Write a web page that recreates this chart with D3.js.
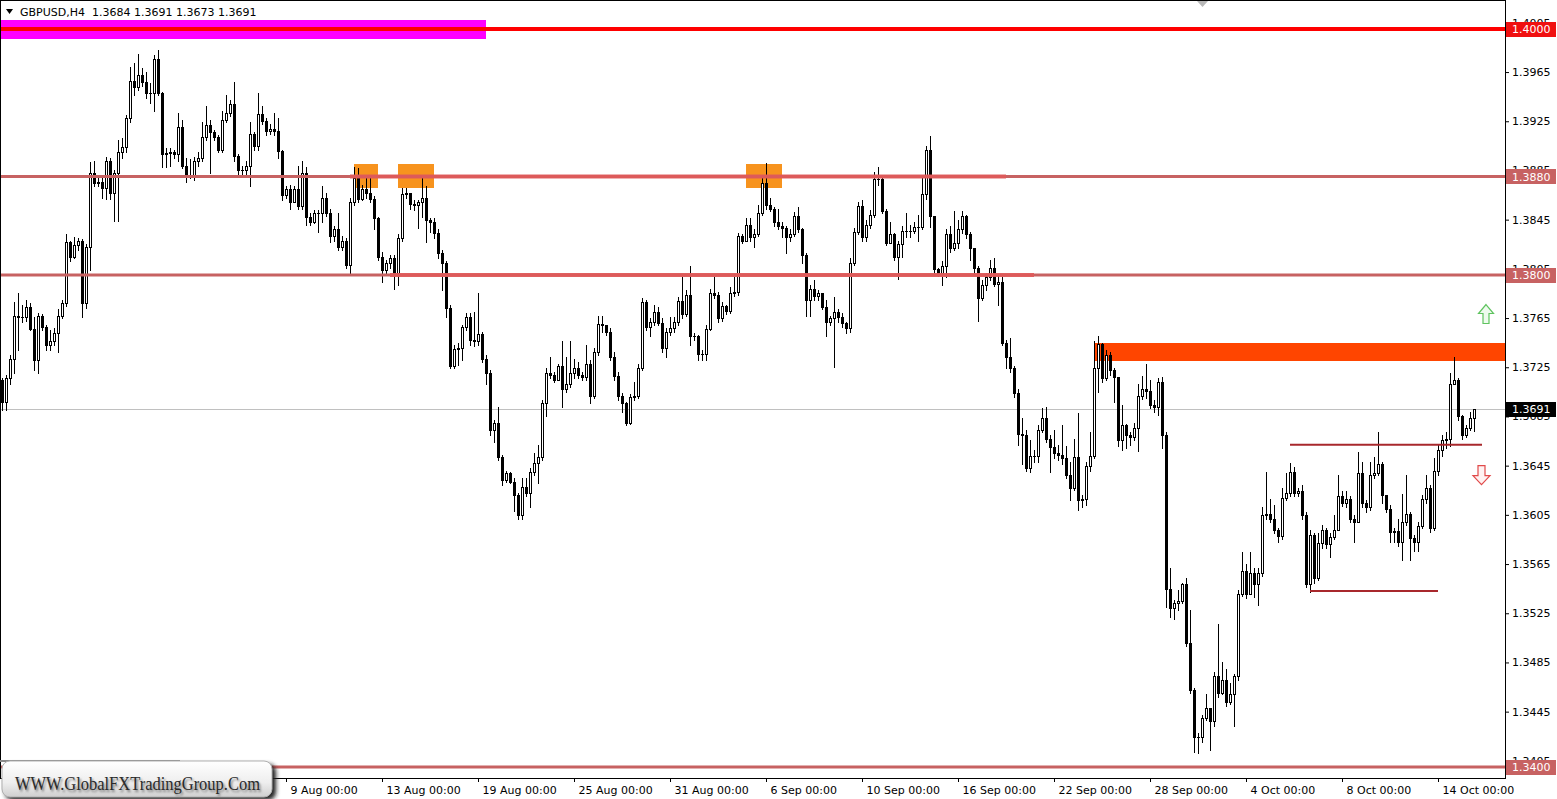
<!DOCTYPE html>
<html><head><meta charset="utf-8">
<script src="https://cdn.jsdelivr.net/npm/d3@7"></script>
<style>
html,body{margin:0;padding:0;background:#fff;overflow:hidden;}
svg{display:block;}
</style></head><body>
<svg id="c" width="1557" height="799"></svg>
<script>
// ---------------- DATA ----------------
const chartTitle = "GBPUSD,H4";
const lastOHLC = ["1.3684","1.3691","1.3673","1.3691"];
const firstOpen = 1.3715;
const closes = [
1.3697,1.3716,1.3732,1.3767,1.3766,1.3766,1.3774,1.3756,1.3731,1.3767,
1.3758,1.3743,1.3746,1.3753,1.3767,1.3777,1.3827,1.3815,1.3824,1.3828,
1.3777,1.3823,1.3883,1.3875,1.3876,1.3871,1.3893,1.3867,1.3883,1.3900,
1.3904,1.3928,1.3958,1.3953,1.3963,1.3957,1.3948,1.3948,1.3976,1.3948,
1.3898,1.3899,1.3900,1.3898,1.3920,1.3889,1.3881,1.3881,1.3893,1.3895,
1.3912,1.3922,1.3916,1.3912,1.3902,1.3926,1.3932,1.3939,1.3897,1.3885,
1.3885,1.3889,1.3915,1.3905,1.3931,1.3925,1.3917,1.3919,1.3917,1.3901,
1.3865,1.3870,1.3859,1.3870,1.3856,1.3883,1.3847,1.3843,1.3850,1.3850,
1.3863,1.3850,1.3832,1.3837,1.3823,1.3828,1.3808,1.3859,1.3879,1.3862,
1.3870,1.3867,1.3862,1.3846,1.3815,1.3804,1.3810,1.3814,1.3802,1.3830,
1.3866,1.3867,1.3858,1.3857,1.3859,1.3863,1.3845,1.3843,1.3834,1.3818,
1.3810,1.3773,1.3726,1.3740,1.3741,1.3758,1.3766,1.3747,1.3746,1.3752,
1.3732,1.3720,1.3674,1.3680,1.3652,1.3633,1.3639,1.3632,1.3621,1.3605,
1.3628,1.3623,1.3640,1.3647,1.3652,1.3696,1.3720,1.3719,1.3715,1.3726,
1.3707,1.3711,1.3720,1.3724,1.3719,1.3717,1.3728,1.3702,1.3737,1.3760,
1.3759,1.3754,1.3733,1.3718,1.3702,1.3696,1.3680,1.3701,1.3702,1.3724,
1.3778,1.3758,1.3762,1.3770,1.3761,1.3741,1.3754,1.3757,1.3762,1.3779,
1.3768,1.3784,1.3750,1.3750,1.3736,1.3736,1.3756,1.3785,1.3784,1.3765,
1.3775,1.3771,1.3785,1.3786,1.3832,1.3828,1.3841,1.3831,1.3833,1.3850,
1.3875,1.3857,1.3854,1.3843,1.3840,1.3838,1.3831,1.3833,1.3848,1.3837,
1.3816,1.3780,1.3789,1.3783,1.3785,1.3774,1.3762,1.3765,1.3770,1.3766,
1.3761,1.3757,1.3810,1.3835,1.3856,1.3831,1.3841,1.3849,1.3878,1.3878,
1.3852,1.3826,1.3833,1.3815,1.3825,1.3836,1.3836,1.3836,1.3839,1.3839,
1.3866,1.3902,1.3848,1.3805,1.3802,1.3807,1.3833,1.3822,1.3826,1.3837,
1.3848,1.3833,1.3822,1.3806,1.3781,1.3792,1.3798,1.3806,1.3793,1.3794,
1.3745,1.3733,1.3724,1.3704,1.3671,1.3670,1.3643,1.3653,1.3653,1.3674,
1.3684,1.3667,1.3660,1.3655,1.3654,1.3651,1.3637,1.3627,1.3652,1.3617,
1.3618,1.3645,1.3653,1.3724,1.3744,1.3716,1.3735,1.3723,1.3717,1.3666,
1.3678,1.3670,1.3668,1.3676,1.3702,1.3707,1.3706,1.3694,1.3693,1.3713,
1.3670,1.3545,1.3529,1.3533,1.3535,1.3549,1.3501,1.3463,1.3424,1.3424,
1.3440,1.3448,1.3437,1.3474,1.3460,1.3471,1.3453,1.3459,1.3474,1.3541,
1.3559,1.3541,1.3558,1.3549,1.3558,1.3605,1.3606,1.3602,1.3593,1.3588,
1.3619,1.3623,1.3640,1.3623,1.3624,1.3605,1.3549,1.3589,1.3554,1.3582,
1.3593,1.3581,1.3587,1.3593,1.3620,1.3615,1.3618,1.3602,1.3599,1.3639,
1.3615,1.3611,1.3637,1.3639,1.3646,1.3621,1.3610,1.3591,1.3592,1.3583,
1.3599,1.3606,1.3586,1.3583,1.3596,1.3618,1.3627,1.3594,1.3641,1.3658,
1.3666,1.3667,1.3711,1.3715,1.3685,1.3670,1.3676,1.3684,1.3691];
const highs = [
1.3716,1.3719,1.3735,1.3778,1.3785,1.3776,1.3780,1.3777,1.3766,1.3769,
1.3768,1.3759,1.3755,1.3757,1.3772,1.3780,1.3833,1.3828,1.3831,1.3830,
1.3829,1.3825,1.3892,1.3893,1.3881,1.3879,1.3896,1.3895,1.3885,1.3910,
1.3911,1.3930,1.3969,1.3972,1.3980,1.3968,1.3965,1.3956,1.3979,1.3983,
1.3949,1.3903,1.3903,1.3902,1.3932,1.3926,1.3895,1.3894,1.3896,1.3900,
1.3924,1.3937,1.3926,1.3918,1.3914,1.3933,1.3946,1.3942,1.3957,1.3898,
1.3889,1.3893,1.3924,1.3916,1.3948,1.3937,1.3928,1.3923,1.3932,1.3928,
1.3902,1.3872,1.3873,1.3872,1.3889,1.3893,1.3888,1.3850,1.3853,1.3853,
1.3872,1.3867,1.3854,1.3840,1.3850,1.3832,1.3830,1.3863,1.3888,1.3887,
1.3873,1.3879,1.3879,1.3864,1.3847,1.3819,1.3812,1.3816,1.3816,1.3833,
1.3871,1.3871,1.3867,1.3861,1.3861,1.3880,1.3872,1.3846,1.3846,1.3837,
1.3820,1.3811,1.3776,1.3743,1.3745,1.3759,1.3769,1.3769,1.3770,1.3785,
1.3754,1.3735,1.3723,1.3682,1.3693,1.3654,1.3641,1.3640,1.3635,1.3623,
1.3635,1.3635,1.3643,1.3655,1.3662,1.3698,1.3724,1.3733,1.3721,1.3728,
1.3746,1.3733,1.3746,1.3732,1.3729,1.3721,1.3743,1.3731,1.3741,1.3767,
1.3767,1.3759,1.3757,1.3737,1.3721,1.3704,1.3697,1.3703,1.3713,1.3728,
1.3781,1.3780,1.3765,1.3776,1.3774,1.3765,1.3757,1.3766,1.3766,1.3782,
1.3798,1.3788,1.3807,1.3753,1.3751,1.3739,1.3759,1.3789,1.3798,1.3786,
1.3778,1.3776,1.3790,1.3798,1.3834,1.3833,1.3846,1.3846,1.3837,1.3857,
1.3881,1.3891,1.3863,1.3855,1.3854,1.3843,1.3840,1.3837,1.3851,1.3855,
1.3838,1.3818,1.3792,1.3796,1.3788,1.3785,1.3780,1.3767,1.3782,1.3772,
1.3769,1.3762,1.3814,1.3838,1.3859,1.3861,1.3845,1.3853,1.3884,1.3888,
1.3881,1.3854,1.3843,1.3834,1.3828,1.3840,1.3850,1.3841,1.3843,1.3849,
1.3881,1.3905,1.3913,1.3846,1.3806,1.3811,1.3837,1.3840,1.3852,1.3845,
1.3852,1.3849,1.3835,1.3822,1.3807,1.3796,1.3802,1.3812,1.3814,1.3799,
1.3798,1.3747,1.3749,1.3726,1.3707,1.3684,1.3674,1.3666,1.3658,1.3678,
1.3692,1.3693,1.3670,1.3674,1.3662,1.3678,1.3661,1.3648,1.3667,1.3688,
1.3621,1.3648,1.3672,1.3746,1.3750,1.3745,1.3739,1.3737,1.3724,1.3716,
1.3694,1.3679,1.3672,1.3680,1.3711,1.3718,1.3728,1.3715,1.3698,1.3716,
1.3717,1.3672,1.3562,1.3536,1.3544,1.3550,1.3554,1.3528,1.3464,1.3428,
1.3442,1.3459,1.3448,1.3477,1.3516,1.3485,1.3480,1.3468,1.3476,1.3544,
1.3575,1.3565,1.3575,1.3562,1.3562,1.3611,1.3640,1.3618,1.3613,1.3594,
1.3627,1.3639,1.3647,1.3644,1.3627,1.3629,1.3607,1.3593,1.3590,1.3590,
1.3597,1.3594,1.3590,1.3605,1.3637,1.3624,1.3624,1.3620,1.3605,1.3656,
1.3648,1.3617,1.3648,1.3652,1.3672,1.3648,1.3621,1.3613,1.3594,1.3602,
1.3622,1.3637,1.3607,1.3589,1.3599,1.3621,1.3637,1.3629,1.3651,1.3662,
1.3670,1.3672,1.3720,1.3733,1.3716,1.3686,1.3678,1.3689,1.3691];
const lows = [
1.3690,1.3690,1.3711,1.3720,1.3739,1.3762,1.3763,1.3755,1.3723,1.3720,
1.3755,1.3739,1.3739,1.3743,1.3737,1.3765,1.3775,1.3811,1.3814,1.3820,
1.3766,1.3773,1.3804,1.3872,1.3872,1.3863,1.3862,1.3862,1.3844,1.3844,
1.3895,1.3900,1.3924,1.3946,1.3950,1.3954,1.3944,1.3940,1.3933,1.3946,
1.3888,1.3888,1.3889,1.3895,1.3893,1.3887,1.3876,1.3879,1.3877,1.3889,
1.3893,1.3910,1.3883,1.3910,1.3900,1.3900,1.3924,1.3929,1.3893,1.3880,
1.3881,1.3880,1.3872,1.3902,1.3902,1.3923,1.3914,1.3915,1.3914,1.3895,
1.3861,1.3863,1.3854,1.3859,1.3854,1.3854,1.3841,1.3841,1.3842,1.3835,
1.3843,1.3848,1.3827,1.3828,1.3820,1.3820,1.3806,1.3802,1.3857,1.3859,
1.3861,1.3863,1.3859,1.3837,1.3812,1.3794,1.3800,1.3806,1.3789,1.3792,
1.3828,1.3863,1.3854,1.3853,1.3838,1.3847,1.3827,1.3835,1.3830,1.3814,
1.3788,1.3766,1.3724,1.3724,1.3727,1.3731,1.3755,1.3743,1.3742,1.3743,
1.3729,1.3711,1.3670,1.3664,1.3650,1.3629,1.3632,1.3631,1.3608,1.3602,
1.3602,1.3620,1.3611,1.3637,1.3631,1.3650,1.3685,1.3716,1.3713,1.3715,
1.3693,1.3705,1.3709,1.3716,1.3716,1.3715,1.3715,1.3696,1.3700,1.3735,
1.3754,1.3751,1.3731,1.3715,1.3698,1.3689,1.3678,1.3679,1.3698,1.3700,
1.3723,1.3755,1.3750,1.3759,1.3759,1.3737,1.3733,1.3751,1.3754,1.3759,
1.3765,1.3767,1.3743,1.3747,1.3731,1.3731,1.3731,1.3755,1.3781,1.3762,
1.3763,1.3768,1.3769,1.3783,1.3784,1.3826,1.3828,1.3828,1.3823,1.3832,
1.3849,1.3854,1.3852,1.3840,1.3837,1.3831,1.3818,1.3828,1.3832,1.3835,
1.3810,1.3767,1.3767,1.3780,1.3780,1.3772,1.3750,1.3759,1.3725,1.3762,
1.3758,1.3753,1.3754,1.3808,1.3833,1.3828,1.3828,1.3838,1.3847,1.3873,
1.3850,1.3824,1.3830,1.3812,1.3797,1.3815,1.3831,1.3831,1.3834,1.3828,
1.3837,1.3862,1.3839,1.3802,1.3799,1.3792,1.3798,1.3819,1.3820,1.3822,
1.3834,1.3830,1.3812,1.3802,1.3763,1.3780,1.3788,1.3796,1.3791,1.3776,
1.3743,1.3724,1.3721,1.3701,1.3662,1.3646,1.3641,1.3640,1.3648,1.3648,
1.3672,1.3664,1.3640,1.3651,1.3650,1.3646,1.3635,1.3617,1.3625,1.3609,
1.3611,1.3613,1.3641,1.3651,1.3705,1.3713,1.3715,1.3719,1.3697,1.3661,
1.3658,1.3659,1.3662,1.3666,1.3657,1.3699,1.3700,1.3692,1.3689,1.3686,
1.3659,1.3530,1.3522,1.3520,1.3528,1.3533,1.3498,1.3460,1.3412,1.3411,
1.3420,1.3438,1.3414,1.3433,1.3457,1.3459,1.3450,1.3451,1.3433,1.3471,
1.3539,1.3537,1.3541,1.3538,1.3532,1.3555,1.3602,1.3599,1.3590,1.3583,
1.3585,1.3617,1.3620,1.3620,1.3620,1.3602,1.3546,1.3542,1.3550,1.3552,
1.3578,1.3578,1.3571,1.3585,1.3593,1.3612,1.3611,1.3599,1.3583,1.3599,
1.3611,1.3607,1.3609,1.3635,1.3637,1.3615,1.3607,1.3583,1.3583,1.3580,
1.3568,1.3597,1.3568,1.3576,1.3576,1.3594,1.3615,1.3591,1.3593,1.3637,
1.3653,1.3659,1.3661,1.3711,1.3682,1.3667,1.3668,1.3674,1.3673];

const priceTicks = [1.4005,1.3965,1.3925,1.3885,1.3845,1.3805,1.3765,1.3725,1.3685,1.3645,1.3605,1.3565,1.3525,1.3485,1.3445,1.3405];
const timeTickIndex = [71,95,119,143,167,191,215,239,263,287,311,335,359];
const timeTickLabels = ["9 Aug 00:00","13 Aug 00:00","19 Aug 00:00","25 Aug 00:00","31 Aug 00:00","6 Sep 00:00","10 Sep 00:00","16 Sep 00:00","22 Sep 00:00","28 Sep 00:00","4 Oct 00:00","8 Oct 00:00","14 Oct 00:00"];
const levelPrices = [1.4000, 1.3880, 1.3800, 1.3400];
const levelNames  = ["top","res","mid","bot"];
// zone rectangles: [fromBar, toBar, priceHigh, priceLow]
const zoneMagenta = [-2, 121, 1.4007, 1.3992];
const zonesOrange = [[88, 94, 1.3890, 1.3871],[99, 108, 1.3890, 1.3871],[186, 195, 1.3890, 1.3871]];
const zoneOrangeRed = [273, 390, 1.3745, 1.3730];
// trend segments: [fromBar, toBar, price]
const segLevels = [[87, 251, 1.3880],[97, 258, 1.3800]];
const segRange = [[322, 370, 1.3662],[327, 359, 1.3543]];
const lastPrice = 1.3691;
const arrowUp = [371, 1.3776];
const arrowDown = [370, 1.3645];
const watermarkText = "WWW.GlobalFXTradingGroup.Com";

// ---------------- DRAW ----------------
const svg = d3.select("#c");
const plotR = 1505, plotB = 778;
const x = d3.scaleLinear().domain([0, closes.length - 1]).range([2, 1474]);
const y = d3.scaleLinear().domain([1.34, 1.40]).range([767, 29]);
const font = "'DejaVu Sans', Verdana, sans-serif";

svg.append("rect").attr("width",1557).attr("height",799).attr("fill","#fff");
svg.append("defs").html(`
 <clipPath id="plot"><rect x="1" y="1" width="${plotR-1}" height="${plotB-1}"/></clipPath>
 <clipPath id="axisclip"><rect x="${plotR+1}" y="0" width="60" height="${plotB}"/></clipPath>
 <linearGradient id="wmg" x1="0" y1="0" x2="0" y2="1">
   <stop offset="0" stop-color="#ffffff"/><stop offset="0.6" stop-color="#eeeeee"/><stop offset="1" stop-color="#cfcfcf"/>
 </linearGradient>
 <filter id="blur" x="-10%" y="-30%" width="120%" height="160%"><feGaussianBlur stdDeviation="2"/></filter>
 <filter id="tblur"><feGaussianBlur stdDeviation="0.8"/></filter>
`);

const plot = svg.append("g").attr("clip-path","url(#plot)");
const ry = v => Math.round(y(v));

// rectangles
plot.append("rect").attr("x", x(zoneMagenta[0])).attr("width", x(zoneMagenta[1]) - x(zoneMagenta[0]))
  .attr("y", ry(zoneMagenta[2])).attr("height", ry(zoneMagenta[3]) - ry(zoneMagenta[2])).attr("fill","#ff00ff");
plot.selectAll(".oz").data(zonesOrange).join("rect")
  .attr("x", d => x(d[0])).attr("width", d => x(d[1]) - x(d[0]))
  .attr("y", d => ry(d[2])).attr("height", d => ry(d[3]) - ry(d[2])).attr("fill","#f7931e");
plot.append("rect").attr("x", x(zoneOrangeRed[0])).attr("width", x(zoneOrangeRed[1]) - x(zoneOrangeRed[0]))
  .attr("y", ry(zoneOrangeRed[2])).attr("height", ry(zoneOrangeRed[3]) - ry(zoneOrangeRed[2])).attr("fill","#ff4500");

// last price line
plot.append("line").attr("x1",0).attr("x2",plotR).attr("y1",ry(lastPrice)+0.5).attr("y2",ry(lastPrice)+0.5)
  .attr("stroke","#c0c0c0").attr("stroke-width",1);

// candles
const bars = closes.map((c,i) => ({i, o: i === 0 ? firstOpen : closes[i-1], h: highs[i], l: lows[i], c}));
const cg = plot.append("g").attr("shape-rendering","crispEdges");
bars.forEach(b => {
  const cx = Math.round(x(b.i));
  const top = ry(Math.max(b.o, b.c)), bot = ry(Math.min(b.o, b.c));
  const hy = Math.min(ry(b.h), top), ly = Math.max(ry(b.l), bot);
  cg.append("line").attr("x1",cx+0.5).attr("x2",cx+0.5).attr("y1",hy).attr("y2",ly+1).attr("stroke","#000");
  if (bot - top < 1) {
    cg.append("rect").attr("x",cx-1).attr("y",top).attr("width",3).attr("height",1).attr("fill","#000");
  } else if (b.c >= b.o) {
    cg.append("rect").attr("x",cx-0.5).attr("y",top+0.5).attr("width",2).attr("height",bot-top)
      .attr("fill","#fff").attr("stroke","#000").attr("stroke-width",1);
  } else {
    cg.append("rect").attr("x",cx-1).attr("y",top).attr("width",3).attr("height",bot-top+1).attr("fill","#000");
  }
});

// horizontal levels
const levelColor = {top:"#ff0000", res:"#c76262", mid:"#c76262", bot:"#c76262"};
const levelWidth = {top:4, res:3, mid:3, bot:3};
plot.selectAll(".lvl").data(levelPrices).join("line")
  .attr("x1",0).attr("x2",plotR).attr("y1",d=>y(d)).attr("y2",d=>y(d))
  .attr("stroke",(d,i)=>levelColor[levelNames[i]]).attr("stroke-width",(d,i)=>levelWidth[levelNames[i]]);
plot.selectAll(".seg").data(segLevels).join("line")
  .attr("x1",d=>x(d[0])).attr("x2",d=>x(d[1])).attr("y1",d=>y(d[2])).attr("y2",d=>y(d[2]))
  .attr("stroke","#df5a5a").attr("stroke-width",4).attr("opacity",0.92);
plot.selectAll(".rng").data(segRange).join("line")
  .attr("x1",d=>x(d[0])).attr("x2",d=>x(d[1])).attr("y1",d=>y(d[2])).attr("y2",d=>y(d[2]))
  .attr("stroke","#a8282c").attr("stroke-width",2);

// arrows
{
  const ax = x(arrowUp[0]), ay = y(arrowUp[1]);
  plot.append("path").attr("d",`M${ax},${ay} L${ax+7.5},${ay+9} L${ax+3},${ay+9} L${ax+3},${ay+19} L${ax-3},${ay+19} L${ax-3},${ay+9} L${ax-7.5},${ay+9} Z`)
    .attr("fill","#eefbee").attr("stroke","#5fc35f").attr("stroke-width",1.2);
  const dx = x(arrowDown[0]) - 0.5, dy = y(arrowDown[1]);
  plot.append("path").attr("d",`M${dx-3.5},${dy} L${dx+3.5},${dy} L${dx+3.5},${dy+10} L${dx+8.5},${dy+10} L${dx},${dy+19} L${dx-8.5},${dy+10} L${dx-3.5},${dy+10} Z`)
    .attr("fill","#fff2f2").attr("stroke","#e14a4a").attr("stroke-width",1.2);
}

// chart shift marker
svg.append("path").attr("d","M1197,1 L1208,1 L1202.5,7 Z").attr("fill","#b8b8b8");

// frame
svg.append("g").attr("shape-rendering","crispEdges").selectAll("line").data([
  [0.5,0,0.5,plotB],[0,0.5,plotR,0.5],[plotR+0.5,0,plotR+0.5,plotB+1],[0,plotB+0.5,plotR+1,plotB+0.5]
]).join("line").attr("x1",d=>d[0]).attr("y1",d=>d[1]).attr("x2",d=>d[2]).attr("y2",d=>d[3]).attr("stroke","#000");

// price axis
const yAxis = d3.axisRight(y).tickValues(priceTicks).tickSize(4).tickFormat(d3.format(".4f"));
const ya = svg.append("g").attr("transform",`translate(${plotR},0)`).call(yAxis);
ya.select(".domain").remove();
ya.selectAll("line").attr("stroke","#000");
ya.selectAll("text").attr("x",7).attr("font-family",font).attr("font-size",11).attr("fill","#000");

// time axis
const xAxis = d3.axisBottom(x).tickValues(timeTickIndex).tickSize(4).tickFormat((d,i)=>timeTickLabels[i]);
const xa = svg.append("g").attr("transform",`translate(0,${plotB})`).call(xAxis);
xa.select(".domain").remove();
xa.selectAll("line").attr("stroke","#000");
xa.selectAll("text").attr("text-anchor","start").attr("x",4).attr("y",8)
  .attr("font-family",font).attr("font-size",11).attr("fill","#000");

// price labels boxes
const boxColor = {top:"#f01010", res:"#c76262", mid:"#c76262", bot:"#c76262"};
const boxes = levelPrices.map((p,i)=>({p, bg: boxColor[levelNames[i]]})).concat([{p:lastPrice, bg:"#000"}]);
const bg = svg.append("g");
boxes.forEach(b => {
  const cy = y(b.p);
  bg.append("rect").attr("x",plotR+1).attr("y",Math.round(cy-7.5)).attr("width",50).attr("height",15).attr("fill",b.bg);
  bg.append("text").attr("x",plotR+7).attr("y",cy).attr("dy","0.36em").attr("font-family",font).attr("font-size",11)
    .attr("fill","#fff").text(d3.format(".4f")(b.p));
});

// title
svg.append("path").attr("d","M6,9 L13,9 L9.5,14 Z").attr("fill","#000");
svg.append("text").attr("x",20).attr("y",16).attr("font-family",font).attr("font-size",11).attr("fill","#000")
  .attr("xml:space","preserve").text(chartTitle + "  " + lastOHLC.join(" "));

// watermark
const wm = svg.append("g");
wm.append("line").attr("x1",0).attr("x2",180).attr("y1",761).attr("y2",761).attr("stroke","#8a8a8a").attr("stroke-width",2);
wm.append("rect").attr("x",5).attr("y",764).attr("width",271).attr("height",36).attr("rx",8).attr("fill","#222").attr("filter","url(#blur)");
wm.append("rect").attr("x",2).attr("y",761).attr("width",270).attr("height",36).attr("rx",8).attr("fill","url(#wmg)").attr("stroke","#b0b0b0");
wm.append("text").attr("x",16.5).attr("y",791.5).attr("font-family","'Liberation Serif','Times New Roman',serif").attr("font-size",19)
  .attr("textLength",245).attr("lengthAdjust","spacingAndGlyphs").attr("fill","#777").attr("filter","url(#tblur)").text(watermarkText);
wm.append("text").attr("x",15).attr("y",790).attr("font-family","'Liberation Serif','Times New Roman',serif").attr("font-size",19)
  .attr("textLength",245).attr("lengthAdjust","spacingAndGlyphs").attr("fill","#2a2a2a").text(watermarkText);
</script>
</body></html>
